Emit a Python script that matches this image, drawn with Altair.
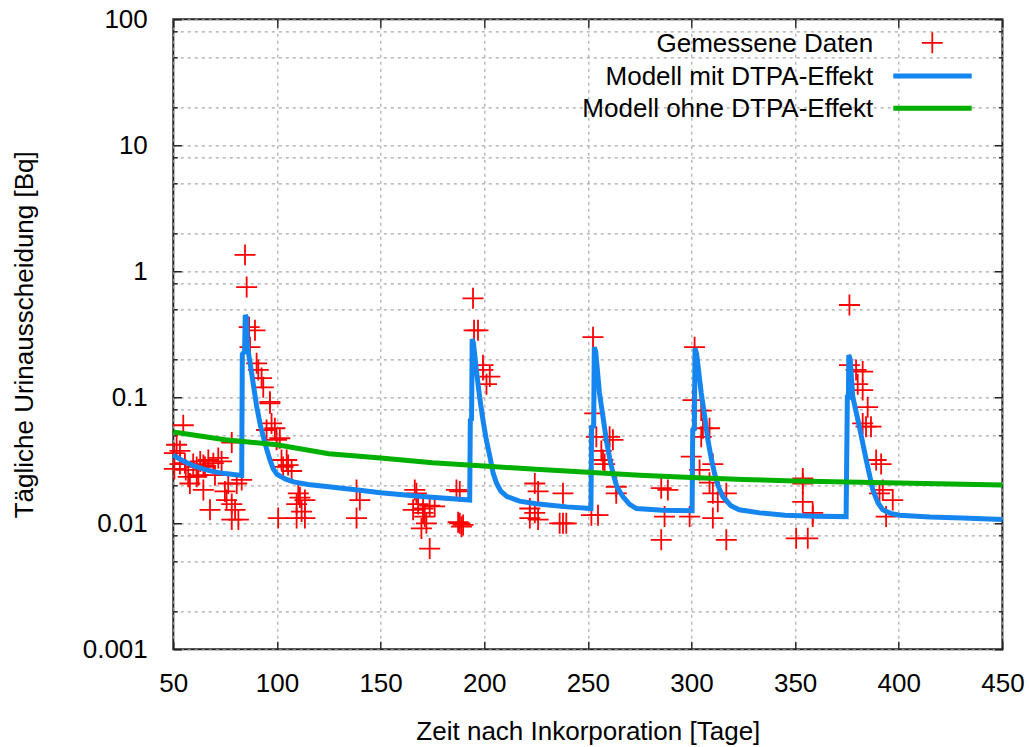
import altair as alt
import pandas as pd

# ---------------- data ----------------
data_day = [50.5, 51.6, 50.5, 54.8, 53.2, 53.2, 55.6, 56.0, 57.2, 58.0, 59.6, 61.3, 62.1, 63.0, 64.5,
            65.3, 66.9, 69.3, 70.1, 71.7, 73.3, 61.3, 64.5, 67.7, 74.9, 75.7, 78.2, 79.8, 81.4, 78.2,
            76.5, 80.6, 78.2, 83.0,
            84.6, 85.4, 86.6, 89.4, 87.0, 90.2, 91.0, 92.6, 93.4, 96.6, 97.4, 95.0, 99.8, 96.6, 99.0,
            101.4, 102.2, 104.7, 105.4, 107.1, 103.0, 110.3, 111.1, 109.5, 113.5, 111.9, 100.6, 109.5, 113.5,
            138.4, 140.0, 138.4,
            166.5, 167.3, 168.1, 170.5, 173.7, 176.1, 170.5, 165.7, 169.7, 172.1, 173.7, 171.3,
            186.6, 188.2, 188.2, 189.0, 189.8, 187.4,
            194.6, 195.1, 197.0, 199.4, 199.4, 202.7, 201.1,
            224.4, 226.0, 238.0, 222.0, 224.4, 222.0, 226.0, 236.4, 238.0, 239.6,
            252.5, 253.3, 254.1, 260.5, 262.1, 256.5, 257.3, 258.1, 263.7, 263.7, 254.9, 251.7,
            285.4, 288.6, 287.0, 285.4,
            299.1, 301.5, 300.7, 304.7, 305.5, 308.7, 304.7, 299.9, 303.9, 310.3, 308.7, 310.3, 316.8,
            312.7, 310.3, 316.8,
            353.7, 353.7, 353.7, 358.5, 358.5, 350.5, 356.1,
            376.2, 376.2, 379.4, 382.6, 380.2, 382.6, 385.0, 382.6, 386.6, 384.2, 389.1, 391.5, 390.7,
            392.3, 397.1, 393.9]
data_bq = [0.036, 0.042, 0.027, 0.060, 0.0375, 0.0295, 0.030, 0.0265, 0.0234, 0.0207, 0.0295, 0.028, 0.0241, 0.031, 0.029,
           0.028, 0.0318, 0.030, 0.0241, 0.033, 0.031, 0.0234, 0.0184, 0.0128, 0.0179, 0.0153, 0.0142, 0.0128, 0.0107, 0.0107,
           0.0207, 0.0207, 0.0437, 0.0221,
           1.35, 0.75, 0.36, 0.34, 0.25, 0.186, 0.165, 0.142, 0.12, 0.092, 0.062, 0.055, 0.046, 0.0895, 0.0568,
           0.0473, 0.0318, 0.0318, 0.029, 0.026, 0.028, 0.0173, 0.016, 0.0142, 0.0153, 0.0124, 0.011, 0.011, 0.011,
           0.0184, 0.0153, 0.011,
           0.0184, 0.0173, 0.0142, 0.0131, 0.0138, 0.0136, 0.0121, 0.0128, 0.0091, 0.0100, 0.0063, 0.0113,
           0.0184, 0.0179, 0.0100, 0.0094, 0.0097, 0.0102,
           0.61, 0.34, 0.34, 0.18, 0.165, 0.146, 0.127,
           0.0207, 0.0179, 0.0173, 0.0131, 0.0121, 0.011, 0.0107, 0.0100, 0.0100, 0.0100,
           0.30, 0.0746, 0.0486, 0.0486, 0.046, 0.0375, 0.0318, 0.0295, 0.0195, 0.0173, 0.0116, 0.0116,
           0.019, 0.0184, 0.0113, 0.0074,
           0.0113, 0.25, 0.095, 0.0785, 0.0568, 0.0568, 0.0486, 0.0338, 0.0265, 0.0295, 0.021, 0.0173, 0.0173,
           0.0148, 0.011, 0.0074,
           0.0227, 0.0207, 0.0148, 0.0121, 0.0113, 0.0076, 0.0076,
           0.54, 0.18, 0.165, 0.16, 0.127, 0.114, 0.0835, 0.062, 0.0585, 0.0585, 0.0318, 0.0295, 0.0173,
           0.0184, 0.0153, 0.0113]

mit_day = [50, 55, 60, 65, 70, 75, 80, 83.0,
           83.3, 84.4, 84.7, 85.3, 85.8, 87, 88.5, 90.2, 92, 93.5, 95, 96.6, 98.2, 100, 104, 108, 115, 125,
           140, 150, 170, 193,
           193.3, 193.9, 194.2, 194.8, 196.2, 197.8, 199.4, 201, 202.7, 204.3, 206, 208, 211, 217, 225, 232,
           240, 251.5,
           251.8, 252.8, 253.1, 253.8, 255.6, 257.2, 258.9, 260.5, 262.1, 264, 266.9, 270, 273.4, 286, 300.3,
           300.6, 301.4, 301.7, 302.5, 304.7, 306.3, 307.9, 309.5, 311.1, 313, 315.1, 319, 323, 333, 345,
           360, 374.6,
           374.8, 375.2, 375.7, 375.9, 376.6, 377.8, 381, 384.3, 387.5, 390, 392.3, 396, 400.3, 415, 430.8, 450]
mit_bq = [0.0348, 0.031, 0.0285, 0.0268, 0.0256, 0.0248, 0.0243, 0.0240,
          0.22, 0.23, 0.45, 0.43, 0.25, 0.19, 0.13, 0.085, 0.060, 0.048, 0.039, 0.032, 0.027, 0.0245, 0.0225,
          0.0213, 0.0203, 0.0195,
          0.0183, 0.0175, 0.0163, 0.0153,
          0.066, 0.067, 0.29, 0.27, 0.165, 0.10, 0.066, 0.046, 0.034, 0.025, 0.0207, 0.018, 0.0163, 0.0150,
          0.0143, 0.0139,
          0.0135, 0.0131,
          0.058, 0.059, 0.25, 0.23, 0.108, 0.072, 0.046, 0.033, 0.025, 0.0195, 0.0163, 0.0142, 0.0131, 0.0127,
          0.0126,
          0.055, 0.056, 0.245, 0.22, 0.108, 0.072, 0.046, 0.033, 0.025, 0.0195, 0.0163, 0.0138, 0.0128, 0.0121,
          0.0116,
          0.0114, 0.0113,
          0.0234, 0.10, 0.10, 0.217, 0.20, 0.101, 0.0585, 0.0318, 0.0184, 0.0145, 0.0128, 0.012, 0.0116, 0.0112,
          0.0110, 0.0107]

ohne_day = [50, 75, 100, 125, 150, 175, 200, 225, 250, 275, 300, 325, 350, 375, 400, 425, 450]
ohne_bq = [0.053, 0.046, 0.042, 0.0357, 0.0330, 0.0302, 0.0285, 0.0268, 0.0254, 0.0241, 0.0231, 0.0223,
           0.0217, 0.0213, 0.0209, 0.0205, 0.0201]

x_ticks = [50, 100, 150, 200, 250, 300, 350, 400, 450]
y_ticks = [0.001, 0.002, 0.005, 0.008, 0.01, 0.02, 0.05, 0.08, 0.1, 0.2, 0.5, 0.8,
           1, 2, 5, 8, 10, 20, 50, 80, 100]
legend_labels = ["Gemessene Daten", "Modell mit DTPA-Effekt", "Modell ohne DTPA-Effekt"]
x_title = "Zeit nach Inkorporation [Tage]"
y_title = "Tägliche Urinausscheidung [Bq]"

# ---------------- styling ----------------
FONT = "Liberation Sans"
FS = 26
RED = "#ff0000"
BLUE = "#1585f0"
GREEN = "#00b000"
CROSS = "M-1,0H1M0,-1V1"
W, H = 829.1, 630.0
PAD_L, PAD_T = 173.3, 19.3

df_pts = pd.DataFrame({"day": data_day, "bq": data_bq})
df_mit = pd.DataFrame({"day": mit_day, "bq": mit_bq})
df_ohne = pd.DataFrame({"day": ohne_day, "bq": ohne_bq})

xscale = alt.Scale(domain=[50, 450], nice=False, zero=False)
yscale = alt.Scale(type="log", domain=[0.001, 100], nice=False)

minor_test = "abs(log(datum.value)/LN10 - round(log(datum.value)/LN10)) > 0.01"

x_axis_main = alt.Axis(
    values=x_ticks, format="d", title=x_title, grid=True, gridDash=[3, 4], gridColor="#a8a8a8",
    gridWidth=1.2, domain=False, ticks=True, tickSize=8, offset=-8, tickColor="#222222", tickWidth=1.4,
    labelFontSize=FS, labelFont=FONT, labelColor="#000000", labelPadding=21, labelFlush=False,
    labelOverlap=False, titleFontSize=FS, titleFont=FONT, titleColor="#000000", titleFontWeight="normal",
    titleBaseline="alphabetic", titleY=98, titleX=W / 2)
y_axis_main = alt.Axis(
    values=y_ticks, title=y_title, grid=True, gridDash=[3, 4], gridColor="#a8a8a8", gridWidth=1.2,
    domain=False, ticks=True, tickSize=8, offset=-8, tickColor="#222222", tickWidth=1.4,
    tickDash={"condition": {"test": minor_test, "value": [4, 4]}, "value": [10, 0]}, tickDashOffset=4,
    labelExpr="abs(log(datum.value)/LN10 - round(log(datum.value)/LN10)) < 0.01 ? format(datum.value, '~g') : ''",
    labelFontSize=FS, labelFont=FONT, labelColor="#000000", labelPadding=26, labelOverlap=False,
    labelFlush=False, titleFontSize=FS, titleFont=FONT, titleColor="#000000", titleFontWeight="normal",
    titleBaseline="alphabetic", titleX=32 - (PAD_L + 8), titleY=H / 2, titleAngle=270)
x_axis_top = alt.Axis(orient="top", values=x_ticks, labels=False, title=None, grid=False, domain=False,
                      ticks=True, tickSize=8, offset=-8, tickColor="#222222", tickWidth=1.4)
y_axis_right = alt.Axis(orient="right", values=y_ticks, labels=False, title=None, grid=False, domain=False,
                        ticks=True, tickSize=8, offset=-8, tickColor="#222222", tickWidth=1.4,
                        tickDash={"condition": {"test": minor_test, "value": [4, 4]}, "value": [10, 0]},
                        tickDashOffset=4)

points = alt.Chart(df_pts).mark_point(
    shape=CROSS, size=440, filled=False, color=RED, strokeWidth=1.8, opacity=1
).encode(
    x=alt.X("day:Q", scale=xscale, axis=x_axis_main),
    y=alt.Y("bq:Q", scale=yscale, axis=y_axis_main),
)

line_mit = alt.Chart(df_mit).mark_line(color=BLUE, strokeWidth=5).encode(
    x=alt.X("day:Q", scale=xscale, axis=None),
    y=alt.Y("bq:Q", scale=yscale, axis=None),
)

line_ohne = alt.Chart(df_ohne).mark_line(color=GREEN, strokeWidth=5).encode(
    x=alt.X("day:Q", scale=xscale, axis=x_axis_top),
    y=alt.Y("bq:Q", scale=yscale, axis=y_axis_right),
)

# ---------------- key (top right, labels left of samples) ----------------
def key_text(i, ypix):
    return alt.Chart(pd.DataFrame({"label": [legend_labels[i]]})).mark_text(
        align="right", baseline="middle", font=FONT, fontSize=FS, color="#000000"
    ).encode(text="label:N", x=alt.value(700), y=alt.value(ypix))

key_src = pd.DataFrame({"label": legend_labels})
key_cross = alt.Chart(key_src.iloc[[0]]).mark_point(
    shape=CROSS, size=440, filled=False, color=RED, strokeWidth=1.8, opacity=1
).encode(x=alt.value(759), y=alt.value(23.5))
key_blue = alt.Chart(key_src.iloc[[1]]).mark_rule(color=BLUE, strokeWidth=5).encode(
    x=alt.value(720), x2=alt.value(798.4), y=alt.value(56.7))
key_green = alt.Chart(key_src.iloc[[2]]).mark_rule(color=GREEN, strokeWidth=5).encode(
    x=alt.value(720), x2=alt.value(798.4), y=alt.value(89))

chart = alt.layer(
    points, line_mit, line_ohne,
    key_text(0, 24.5), key_text(1, 57.2), key_text(2, 89.5),
    key_cross, key_blue, key_green,
).resolve_axis(x="independent", y="independent").properties(
    width=W, height=H,
    autosize=alt.AutoSizeParams(type="none"),
    padding={"left": PAD_L, "top": PAD_T, "right": 1029 - PAD_L - W, "bottom": 747 - PAD_T - H},
    background="#ffffff",
).configure_view(stroke="#222222", strokeWidth=2)

chart.save("out.html", embed_options={"renderer": "svg", "actions": False})
